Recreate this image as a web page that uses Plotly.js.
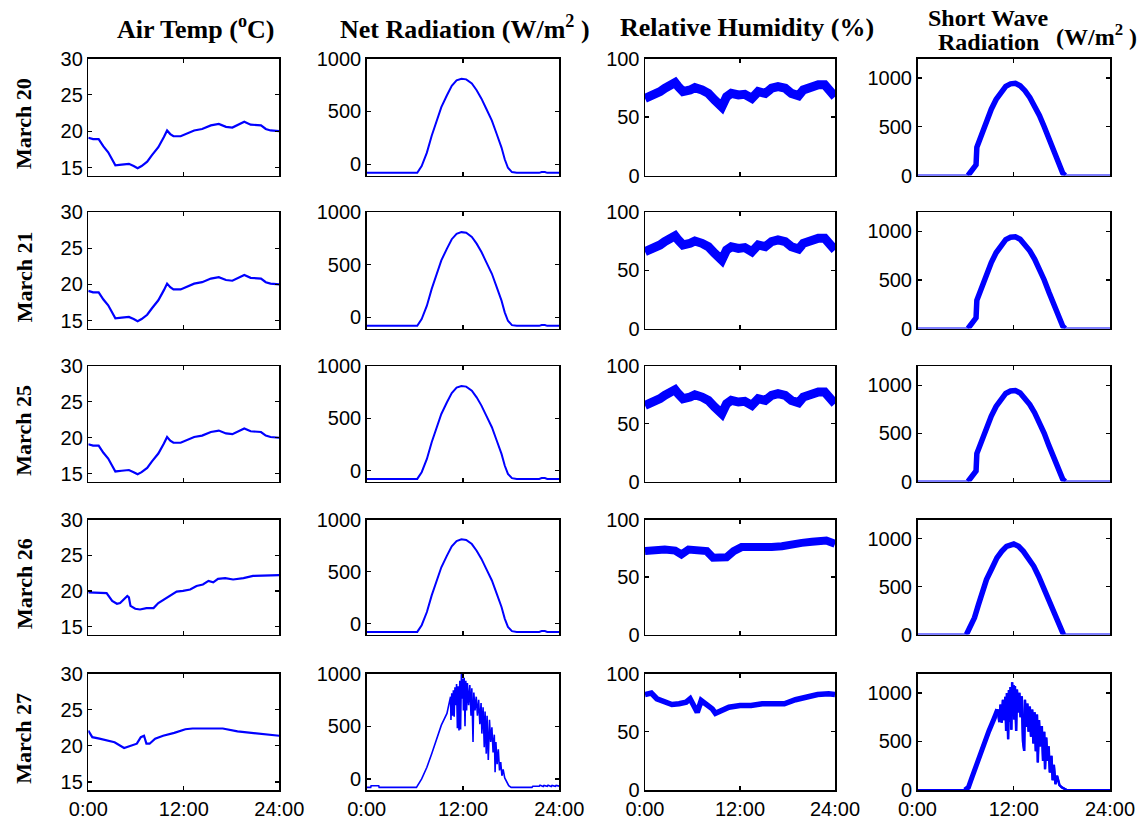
<!DOCTYPE html>
<html>
<head>
<meta charset="utf-8">
<script src="https://cdn.plot.ly/plotly-3.0.1.min.js"></script>
<style>html,body{margin:0;padding:0;background:#fff;}#chart{width:1147px;height:821px;}</style>
</head>
<body>
<div id="chart"></div>
<script>
// ---------- DATA (hours of day) ----------
const rowLabels = ['March 20', 'March 21', 'March 25', 'March 26', 'March 27'];
const colTitles = ['Air Temp (<sup>o</sup>C)', 'Net Radiation (W/m<sup>2</sup> )', 'Relative Humidity (%)'];
const swTitleLines = ['Short Wave', 'Radiation'];
const swUnit = '(W/m<sup>2</sup> )';
const xTickVals = [0, 12, 24];
const xTickText = ['0:00', '12:00', '24:00'];

// Air temperature, March 20 / 21 / 25
const tempA_t = [0,0.6,1.3,1.5,1.9,2.5,2.9,3.4,4.2,5.1,5.7,6.2,6.7,7.4,8.0,8.8,9.5,9.9,10.3,10.7,11.6,12.4,13.3,14.3,15.4,16.4,17.3,18.1,19.0,19.6,20.4,21.7,22.3,22.9,24];
const tempA_v = [19.1,18.9,18.9,18.5,17.9,17.1,16.2,15.3,15.4,15.5,15.2,14.9,15.2,15.8,16.7,17.8,19.2,20.1,19.6,19.3,19.3,19.7,20.1,20.3,20.8,21.0,20.6,20.5,21.0,21.3,20.9,20.8,20.3,20.1,20.0];
// Air temperature, March 26
const tempD_t = [0,1.0,2.3,3.0,3.6,4.0,4.4,4.9,5.1,5.3,5.9,6.5,7.3,8.2,8.8,9.6,10.5,11.1,11.9,12.8,13.6,14.4,15.1,15.7,16.3,17.2,18.2,19.5,20.7,22.4,24];
const tempD_v = [19.8,19.8,19.7,18.6,18.2,18.3,18.8,19.3,19.1,17.9,17.5,17.4,17.6,17.6,18.3,18.9,19.5,19.9,20.0,20.2,20.7,20.9,21.4,21.2,21.7,21.8,21.6,21.8,22.1,22.2,22.2];
// Air temperature, March 27
const tempE_t = [0,0.5,1.4,2.3,3.3,4.5,5.4,6.1,6.6,7.0,7.3,7.7,8.4,9.4,10.8,12.2,13.1,15.0,16.9,18.75,20.6,22.5,24];
const tempE_v = [22.1,21.2,21.0,20.8,20.5,19.7,20.0,20.3,21.2,21.4,20.3,20.3,21.0,21.4,21.8,22.3,22.4,22.4,22.4,22.0,21.8,21.5,21.4];

// Net radiation, March 20 / 21 / 25 / 26
const netA_t = [0,6.3,6.85,7.5,8.1,8.7,9.3,10.0,10.6,11.2,11.8,12.4,13.1,13.7,14.3,14.9,15.6,16.2,16.8,17.2,17.6,18.1,18.7,21.5,21.8,22.2,22.5,24];
const netA_v = [-80,-80,-16,111,271,414,541,653,742,793,809,803,764,700,621,525,414,287,159,48,-32,-73,-80,-80,-72,-72,-80,-80];
// Net radiation, March 27 (cloudy, spiky)
const netE_t = [0,0.5,0.55,1.5,1.55,6.2,6.85,7.5,8.1,8.7,9.3,10.0,10.3,10.45,10.5,10.6,10.7,10.8,10.9,11.0,11.1,11.2,11.3,11.4,11.5,11.6,11.7,11.8,11.9,12.0,12.05,12.15,12.25,12.35,12.45,12.55,12.7,12.85,13.0,13.1,13.25,13.35,13.5,13.65,13.8,13.95,14.1,14.25,14.35,14.5,14.65,14.75,14.9,15.0,15.15,15.3,15.45,15.6,15.75,15.9,16.0,16.1,16.25,16.4,16.55,16.7,16.85,17.0,17.2,17.4,17.7,18.0,20.6,20.7,21.5,21.6,22.0,22.1,22.5,22.6,23.0,23.1,23.5,23.6,24];
const netE_v = [-80,-80,-65,-65,-80,-80,0,111,239,382,510,621,717,780,560,812,600,840,590,870,700,900,480,880,460,930,470,1000,760,950,650,960,500,930,650,910,700,890,600,860,350,820,650,780,600,750,520,720,430,680,300,640,240,600,180,560,350,490,250,420,64,350,140,280,80,160,30,90,10,-16,-64,-80,-80,-70,-70,-60,-72,-62,-70,-60,-72,-62,-70,-62,-68];

// Relative humidity, March 20 / 21 / 25
const rhA_t = [0,0.6,1.3,1.9,2.5,3.2,3.8,4.2,4.8,5.7,6.3,7.2,8.0,8.8,9.7,10.3,10.9,11.8,12.6,13.5,14.3,15.2,16.0,16.8,17.7,18.5,19.4,20.0,21.1,21.9,22.7,23.4,24];
const rhA_v = [65.9,67.3,70.2,71.7,74.6,77.5,79.5,76.0,71.7,73.1,75.1,73.1,70.2,64.5,58.7,67.3,70.2,68.8,69.4,65.9,71.7,70.2,74.6,76.0,74.6,70.2,68.2,73.1,76.0,77.5,77.5,73.1,67.3];
// Relative humidity, March 26
const rhD_t = [0,1.3,2.5,3.8,4.6,5.5,6.7,7.8,8.6,9.5,10.3,11.2,12.2,13.5,14.7,16.0,17.3,18.5,19.8,21.1,22.1,22.9,24];
const rhD_v = [72.5,73.9,73.9,73.0,69.6,73.9,73.9,72.5,66.7,66.1,67.2,72.5,76.0,76.0,75.4,76.0,76.8,78.8,79.7,80.6,81.7,81.7,78.8];
// Relative humidity, March 27
const rhE_t = [0,0.8,1.5,2.4,3.4,4.3,5.2,5.7,6.2,6.6,7.1,7.8,8.5,8.9,9.6,10.6,12.0,13.4,14.8,16.2,17.6,19.0,20.4,21.8,23.2,24];
const rhE_v = [82.0,83.2,78.3,76.0,73.4,74.0,75.4,78.3,72.5,66.7,76.8,73.4,69.6,65.8,68.1,71.0,72.5,72.5,74.0,74.5,74.0,77.5,79.7,82.0,82.6,82.0];

// Short wave radiation, March 20 / 21 / 25
const swA_t = [0,6.3,6.6,7.0,7.3,7.4,8.0,8.6,9.2,9.8,10.4,11.0,11.6,12.2,12.8,13.4,14.0,14.6,15.2,15.8,16.4,17.0,17.6,18.1,18.4,24];
const swA_v = [0,0,40,80,110,290,430,560,680,780,860,915,940,945,920,870,800,715,615,500,370,240,110,25,0,0];
// Short wave radiation, March 26
const swD_t = [0,6.1,6.3,6.7,7.1,7.6,8.0,8.6,9.3,9.9,10.5,11.1,12.0,12.6,13.2,13.8,14.5,15.1,15.7,16.4,17.0,17.6,18.2,24];
const swD_v = [0,0,35,104,174,312,434,573,694,799,868,920,944,920,868,799,712,608,486,347,226,87,0,0];
// Short wave radiation, March 27 (cloudy, spiky)
const swE_t = [0,5.9,6.35,6.7,7.0,7.6,8.2,8.9,9.5,10.0,10.2,10.35,10.5,10.65,10.8,10.95,11.05,11.15,11.3,11.4,11.5,11.6,11.7,11.8,11.9,12.0,12.05,12.15,12.3,12.4,12.55,12.7,12.85,13.0,13.15,13.3,13.4,13.55,13.7,13.85,14.0,14.15,14.3,14.45,14.6,14.75,14.9,15.0,15.15,15.3,15.5,15.65,15.8,15.9,16.05,16.2,16.35,16.5,16.7,16.85,17.0,17.2,17.4,17.7,18.0,18.6,24];
const swE_v = [0,0,27,110,181,317,471,608,727,829,700,880,693,930,720,960,608,1000,522,1030,700,1060,620,1109,800,1080,727,1070,608,1034,800,1000,750,966,500,403,930,650,890,600,860,550,830,480,800,400,778,283,720,450,659,300,600,215,540,300,450,180,352,100,260,60,147,50,27,0,0];

// ---------- LAYOUT GEOMETRY ----------
const W = 1147, H = 821;
const colPx = [[88.3, 279.3], [366.7, 559.3], [645, 835], [917.5, 1110]];
const rowPx = [[58.5, 175.5], [212, 328.5], [366, 481.5], [519.5, 634.5], [673.5, 790]];
const yRanges = [[13.9, 30], [-105, 1000], [0, 100], [0, 1200]];
const yTicks = [[15, 20, 25, 30], [0, 500, 1000], [0, 50, 100], [0, 500, 1000]];

const rows = [
  {temp: [tempA_t, tempA_v], net: [netA_t, netA_v], rh: [rhA_t, rhA_v], sw: [swA_t, swA_v], rhW: 9, swW: 5.5, netW: 2, rampEnd: null},
  {temp: [tempA_t, tempA_v], net: [netA_t, netA_v], rh: [rhA_t, rhA_v], sw: [swA_t, swA_v], rhW: 9, swW: 5.5, netW: 2, rampEnd: null},
  {temp: [tempA_t, tempA_v], net: [netA_t, netA_v], rh: [rhA_t, rhA_v], sw: [swA_t, swA_v], rhW: 9, swW: 5.5, netW: 2, rampEnd: null},
  {temp: [tempD_t, tempD_v], net: [netA_t, netA_v], rh: [rhD_t, rhD_v], sw: [swD_t, swD_v], rhW: 8, swW: 5.5, netW: 2, rampEnd: null},
  {temp: [tempE_t, tempE_v], net: [netE_t, netE_v], rh: [rhE_t, rhE_v], sw: [swE_t, swE_v], rhW: 5.5, swW: 2.5, netW: 1.6, rampEnd: 10.0}
];

const BLUE = '#0000ff';
const tickFont = {family: 'Liberation Sans, Arial, sans-serif', size: 20, color: '#000'};
const serif = 'Liberation Serif, Times New Roman, serif';

const data = [];
const layout = {
  width: W, height: H,
  margin: {l: 0, r: 0, t: 0, b: 0},
  paper_bgcolor: '#fff', plot_bgcolor: '#fff',
  showlegend: false,
  annotations: []
};

function axName(k, letter) { return letter + (k === 1 ? '' : k); }

rows.forEach((row, r) => {
  const series = [row.temp, row.net, row.rh, row.sw];
  series.forEach((s, c) => {
    const k = r * 4 + c + 1;
    const xa = axName(k, 'x'), ya = axName(k, 'y');
    const common = {x: s[0], y: s[1], xaxis: xa, yaxis: ya, mode: 'lines', hoverinfo: 'skip'};
    if (c === 0) {
      data.push(Object.assign({}, common, {line: {color: BLUE, width: 2.2}}));
    } else if (c === 1) {
      data.push(Object.assign({}, common, {line: {color: BLUE, width: row.netW}}));
    } else if (c === 2) {
      data.push(Object.assign({}, common, {line: {color: BLUE, width: row.rhW}}));
    } else {
      // thin full series (night baseline), thick daytime part, thicker morning ramp
      data.push(Object.assign({}, common, {line: {color: BLUE, width: 2}}));
      const dy = s[1].map((v, i) => (v > 0 || (s[1][i - 1] > 0) || (s[1][i + 1] > 0)) ? v : null);
      data.push(Object.assign({}, common, {y: dy, connectgaps: false, line: {color: BLUE, width: row.swW}}));
      if (row.rampEnd !== null) {
        const ry = dy.map((v, i) => (s[0][i] <= row.rampEnd + 1e-9) ? v : null);
        data.push(Object.assign({}, common, {y: ry, connectgaps: false, line: {color: BLUE, width: 5}}));
      }
    }
    layout['xaxis' + (k === 1 ? '' : k)] = {
      domain: [colPx[c][0] / W, colPx[c][1] / W],
      anchor: ya, range: [0, 24],
      tickvals: xTickVals, ticktext: xTickText,
      showticklabels: r === 4,
      ticks: 'inside', ticklen: 4, tickwidth: 1.2, tickcolor: '#000',
      showline: true, linecolor: '#000', linewidth: 1.5, mirror: 'ticks',
      showgrid: false, zeroline: false, fixedrange: true,
      tickfont: tickFont
    };
    layout['yaxis' + (k === 1 ? '' : k)] = {
      domain: [1 - rowPx[r][1] / H, 1 - rowPx[r][0] / H],
      anchor: xa, range: yRanges[c],
      tickvals: yTicks[c],
      ticks: 'inside', ticklen: 4, tickwidth: 1.2, tickcolor: '#000',
      showline: true, linecolor: '#000', linewidth: 1.5, mirror: 'ticks',
      showgrid: false, zeroline: false, fixedrange: true,
      tickfont: tickFont
    };
  });
  // row label
  layout.annotations.push({
    xref: 'paper', yref: 'paper', x: 24 / W, y: 1 - ((rowPx[r][0] + rowPx[r][1]) / 2 + 7) / H,
    text: '<b>' + rowLabels[r] + '</b>', textangle: -90, showarrow: false,
    xanchor: 'center', yanchor: 'middle', font: {family: serif, size: 22, color: '#000'}
  });
});

function paperText(text, px, py, size) {
  layout.annotations.push({
    xref: 'paper', yref: 'paper', x: px / W, y: 1 - py / H,
    text: '<b>' + text + '</b>', showarrow: false, xanchor: 'center', yanchor: 'middle',
    font: {family: serif, size: size, color: '#000'}
  });
}
// column titles
const titlePos = [[195, 27], [465, 27], [747, 27]];
colTitles.forEach((t, c) => paperText(t, titlePos[c][0], titlePos[c][1], 26));
paperText(swTitleLines[0], 988, 18, 24);
paperText(swTitleLines[1], 988, 42, 24);
paperText(swUnit, 1096, 35, 24);

Plotly.newPlot('chart', data, layout, {staticPlot: true, displayModeBar: false});
</script>
</body>
</html>
